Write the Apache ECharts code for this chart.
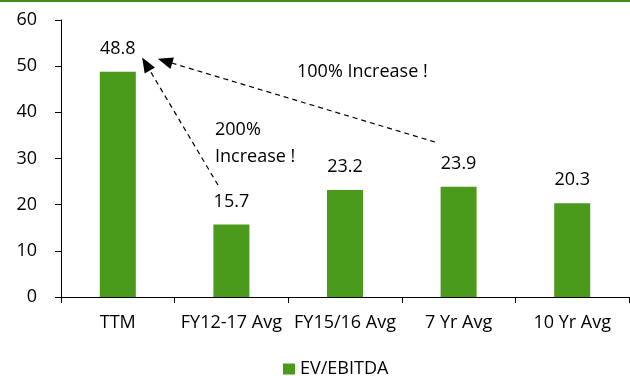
<!DOCTYPE html>
<html>
<head>
<meta charset="utf-8">
<script src="https://cdn.jsdelivr.net/npm/echarts@6/dist/echarts.min.js"></script>
<style>
  html, body { margin: 0; padding: 0; background: #fff; }
  #chart { width: 630px; height: 376px; }
</style>
</head>
<body>
<div id="chart"></div>
<script>
const categories = ['TTM', 'FY12-17 Avg', 'FY15/16 Avg', '7 Yr Avg', '10 Yr Avg']
const evEbitda = [48.8, 15.7, 23.2, 23.9, 20.3]
const yTicks = { min: 0, max: 60, interval: 10 }

const green = '#4a9a1c'
const font = 'Open Sans'
const fs = 18

const chart = echarts.init(document.getElementById('chart'))

chart.setOption({
  animation: false,
  textStyle: { fontFamily: font },
  grid: { left: 61, right: 1, top: 20, bottom: 79 },
  legend: {
    bottom: -7,
    left: 278,
    itemWidth: 12,
    itemHeight: 11,
    itemGap: 6,
    icon: 'rect',
    textStyle: { fontFamily: font, fontSize: fs, color: '#000' },
    data: ['EV/EBITDA']
  },
  xAxis: {
    type: 'category',
    data: categories,
    axisLine: { lineStyle: { color: '#000', width: 1 } },
    axisTick: { show: true, length: 6, lineStyle: { color: '#000' } },
    axisLabel: { color: '#000', fontSize: fs, margin: 17, interval: 0 }
  },
  yAxis: {
    type: 'value',
    min: yTicks.min,
    max: yTicks.max,
    interval: yTicks.interval,
    splitLine: { show: false },
    axisLine: { show: true, lineStyle: { color: '#000', width: 1 } },
    axisTick: { show: true, length: 6, lineStyle: { color: '#000' } },
    axisLabel: { color: '#000', fontSize: fs, margin: 24 }
  },
  series: [{
    name: 'EV/EBITDA',
    type: 'bar',
    data: evEbitda,
    barWidth: 36,
    itemStyle: { color: green },
    label: {
      show: true,
      position: 'top',
      distance: 14,
      color: '#000',
      fontSize: fs,
      fontFamily: font
    },
    markLine: {
      silent: true,
      symbol: ['none', 'triangle'],
      symbolSize: [12, 15],
      label: { show: false },
      lineStyle: { color: '#000', type: [5, 4], width: 1.2 },
      data: [
        [{ x: 218, y: 185 }, { x: 146, y: 64 }],
        [{ x: 435, y: 142 }, { x: 165, y: 61 }]
      ]
    }
  }],
  graphic: [
    { type: 'rect', left: 0, top: 0, shape: { width: 630, height: 2 }, style: { fill: '#3f8f1f' } },
    { type: 'text', left: 297, top: 63, style: { text: '100% Increase !', font: fs + 'px ' + font, fill: '#000' } },
    { type: 'text', left: 215, top: 116, style: { text: '200%\nIncrease !', font: fs + 'px ' + font, fill: '#000', lineHeight: 27 } }
  ]
})
</script>
</body>
</html>
